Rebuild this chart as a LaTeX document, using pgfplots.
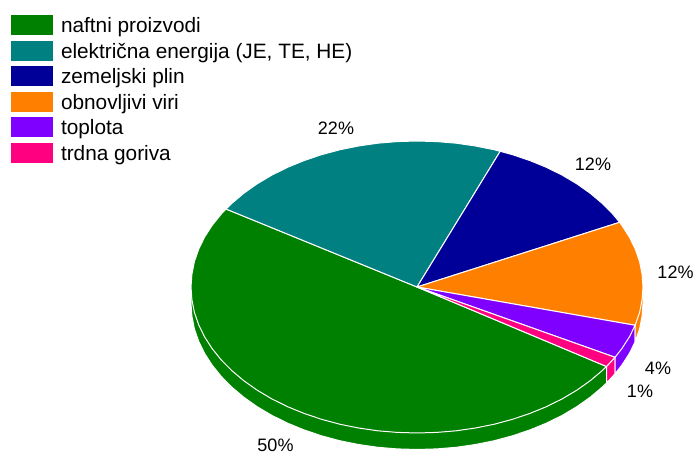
\documentclass[border=0pt]{standalone}
\usepackage{pgfplots}
\usepackage{fontspec}
\setmainfont{Liberation Sans}
\pgfplotsset{compat=1.18}

\definecolor{cNafta}{HTML}{008000}
\definecolor{cElektrika}{HTML}{008080}
\definecolor{cPlin}{HTML}{000099}
\definecolor{cObnovljivi}{HTML}{FF8000}
\definecolor{cToplota}{HTML}{8000FF}
\definecolor{cTrdna}{HTML}{FF0080}

\tikzset{oznaka/.style={font=\fontsize{18}{20}\selectfont, inner sep=0pt, outer sep=0pt}}

\begin{document}
\begin{tikzpicture}
\begin{axis}[
	scale only axis,
	width=694pt,
	height=454pt,
	xmin=0, xmax=694,
	ymin=0, ymax=454,
	y dir=reverse,
	hide axis,
	clip=false,
	legend cell align=left,
	legend style={
		at={(axis cs:9.5,14.5)},
		anchor=north west,
		draw=none,
		fill=none,
		inner sep=0pt,
		outer sep=0pt,
		font=\fontsize{20.8}{22}\selectfont,
		row sep=-2.4pt,
		nodes={inner sep=0pt, outer sep=0pt, text height=16pt, text depth=9.6pt, anchor=base west},
		/tikz/column 2/.style={column sep=0pt},
	},
	legend image code/.code={
		\fill[#1] (0pt,-2.8pt) rectangle (43.8pt,17.8pt);
		\path (50.5pt,0pt);
	},
	every axis plot/.append style={line width=1pt, line join=round},
]
% stranice (debelina pite)
\addplot[fill=cNafta, draw=white, forget plot] coordinates {
	(191,287) (191,303.5) (191.9,316.2) (194.4,328.9) (198.7,341.3) (204.6,353.4) (212.2,365.2)
	(221.3,376.5) (231.9,387.2) (243.9,397.3) (257.2,406.7) (271.7,415.3) (287.4,423.1) (304,429.9)
	(321.5,435.8) (339.7,440.7) (358.5,444.5) (377.8,447.3) (397.3,448.9) (417,449.5) (436.7,448.9)
	(456.2,447.3) (475.5,444.5) (494.3,440.7) (512.5,435.8) (530,429.9) (546.6,423.1) (562.3,415.3)
	(576.8,406.7) (590.1,397.3) (602.1,387.2) (606.5,383) (606.5,366.5)
} -- cycle;
\addplot[fill=cTrdna, draw=white, forget plot] coordinates {
	(606.5,366.5) (606.5,383) (615,373.8) (615,357.3)
} -- cycle;
\addplot[fill=cToplota, draw=white, forget plot] coordinates {
	(615,357.3) (615,373.8) (621.8,365.2) (629.4,353.4) (635.1,341.8) (635.1,325.3)
} -- cycle;
\addplot[fill=cObnovljivi, draw=white, forget plot] coordinates {
	(635.1,325.3) (635.1,341.8) (639.6,328.9) (642.1,316.2) (643,303.5) (643,287)
} -- cycle;

% zgornja ploskev
\addplot[fill=cNafta, draw=white] coordinates {
	(417,287) (226,209) (221.3,214) (212.2,225.3) (204.6,237.1) (198.7,249.2) (194.4,261.6) (191.9,274.3)
	(191,287) (191.9,299.7) (194.4,312.4) (198.7,324.8) (204.6,336.9) (212.2,348.7) (221.3,360)
	(231.9,370.7) (243.9,380.8) (257.2,390.2) (271.7,398.8) (287.4,406.6) (304,413.4) (321.5,419.3)
	(339.7,424.2) (358.5,428) (377.8,430.8) (397.3,432.4) (417,433) (436.7,432.4) (456.2,430.8)
	(475.5,428) (494.3,424.2) (512.5,419.3) (530,413.4) (546.6,406.6) (562.3,398.8) (576.8,390.2)
	(590.1,380.8) (602.1,370.7) (606.5,366.5)
} -- cycle;
\addlegendentry{naftni proizvodi}
\addplot[fill=cElektrika, draw=white] coordinates {
	(417,287) (500.2,151.3) (494.3,149.8) (475.5,146) (456.2,143.2) (436.7,141.6) (417,141) (397.3,141.6)
	(377.8,143.2) (358.5,146) (339.7,149.8) (321.5,154.7) (304,160.6) (287.4,167.4) (271.7,175.2)
	(257.2,183.8) (243.9,193.2) (231.9,203.3) (226,209)
} -- cycle;
\addlegendentry{električna energija (JE, TE, HE)}
\addplot[fill=cPlin, draw=white] coordinates {
	(417,287) (619.6,222.3) (612.7,214) (602.1,203.3) (590.1,193.2) (576.8,183.8) (562.3,175.2)
	(546.6,167.4) (530,160.6) (512.5,154.7) (500.2,151.3)
} -- cycle;
\addlegendentry{zemeljski plin}
\addplot[fill=cObnovljivi, draw=white] coordinates {
	(417,287) (635.1,325.3) (639.6,312.4) (642.1,299.7) (643,287) (642.1,274.3) (639.6,261.6)
	(635.3,249.2) (629.4,237.1) (621.8,225.3) (619.6,222.3)
} -- cycle;
\addlegendentry{obnovljivi viri}
\addplot[fill=cToplota, draw=white] coordinates {
	(417,287) (615,357.3) (621.8,348.7) (629.4,336.9) (635.1,325.3)
} -- cycle;
\addlegendentry{toplota}
\addplot[fill=cTrdna, draw=white] coordinates {
	(417,287) (606.5,366.5) (615,357.3)
} -- cycle;
\addlegendentry{trdna goriva}

\node[oznaka] at (axis cs:336,128) {22\%};
\node[oznaka] at (axis cs:593,164) {12\%};
\node[oznaka] at (axis cs:675.5,272) {12\%};
\node[oznaka] at (axis cs:658,368) {4\%};
\node[oznaka] at (axis cs:640,391) {1\%};
\node[oznaka] at (axis cs:275.5,445.5) {50\%};
\end{axis}
\path (0,0) rectangle (694pt,454pt);
\end{tikzpicture}
\end{document}
